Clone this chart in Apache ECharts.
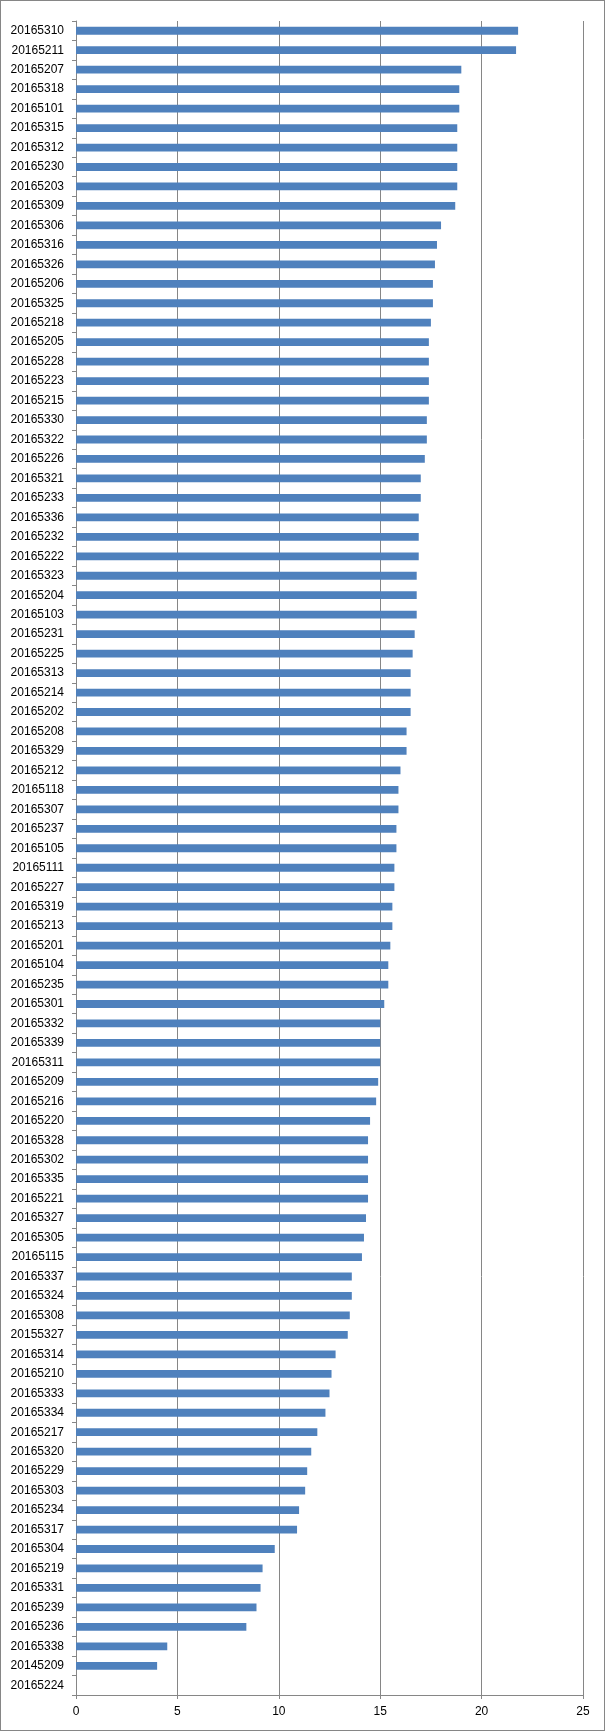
<!DOCTYPE html>
<html>
<head>
<meta charset="utf-8">
<script src="https://cdn.jsdelivr.net/npm/echarts@6/dist/echarts.min.js"></script>
<style>
  html, body { margin: 0; padding: 0; background: #fff; }
  #chart { width: 605px; height: 1731px; box-sizing: border-box; border: 1px solid #868686; }
</style>
</head>
<body>
<div id="chart"></div>
<script>
// categories, top to bottom
var ids = [
  '20165310','20165211','20165207','20165318','20165101','20165315','20165312','20165230','20165203','20165309',
  '20165306','20165316','20165326','20165206','20165325','20165218','20165205','20165228','20165223','20165215',
  '20165330','20165322','20165226','20165321','20165233','20165336','20165232','20165222','20165323','20165204',
  '20165103','20165231','20165225','20165313','20165214','20165202','20165208','20165329','20165212','20165118',
  '20165307','20165237','20165105','20165111','20165227','20165319','20165213','20165201','20165104','20165235',
  '20165301','20165332','20165339','20165311','20165209','20165216','20165220','20165328','20165302','20165335',
  '20165221','20165327','20165305','20165115','20165337','20165324','20165308','20155327','20165314','20165210',
  '20165333','20165334','20165217','20165320','20165229','20165303','20165234','20165317','20165304','20165219',
  '20165331','20165239','20165236','20165338','20145209','20165224'
];
// values
var scores = [
  21.8, 21.7, 19.0, 18.9, 18.9, 18.8, 18.8, 18.8, 18.8, 18.7,
  18.0, 17.8, 17.7, 17.6, 17.6, 17.5, 17.4, 17.4, 17.4, 17.4,
  17.3, 17.3, 17.2, 17.0, 17.0, 16.9, 16.9, 16.9, 16.8, 16.8,
  16.8, 16.7, 16.6, 16.5, 16.5, 16.5, 16.3, 16.3, 16.0, 15.9,
  15.9, 15.8, 15.8, 15.7, 15.7, 15.6, 15.6, 15.5, 15.4, 15.4,
  15.2, 15.0, 15.0, 15.0, 14.9, 14.8, 14.5, 14.4, 14.4, 14.4,
  14.4, 14.3, 14.2, 14.1, 13.6, 13.6, 13.5, 13.4, 12.8, 12.6,
  12.5, 12.3, 11.9, 11.6, 11.4, 11.3, 11.0, 10.9, 9.8, 9.2,
  9.1, 8.9, 8.4, 4.5, 4.0, 0
];
var xTicks = [0, 25, 5]; // min, max, step

var grey = '#868686';
var txt = { color: '#000', fontFamily: 'Liberation Sans, Arial, sans-serif', fontSize: 12 };

var myChart = echarts.init(document.getElementById('chart'));
myChart.setOption({
  animation: false,
  grid: { left: 75, right: 21, top: 20, bottom: 35, containLabel: false },
  xAxis: {
    type: 'value',
    min: xTicks[0], max: xTicks[1], interval: xTicks[2],
    axisLine: { show: true, lineStyle: { color: grey } },
    axisTick: { show: true, length: 4, lineStyle: { color: grey } },
    axisLabel: Object.assign({ margin: 11 }, txt),
    splitLine: { show: true, lineStyle: { color: grey } }
  },
  yAxis: {
    type: 'category',
    inverse: true,
    data: ids,
    axisLine: { show: true, lineStyle: { color: grey } },
    axisTick: { show: true, length: 4, lineStyle: { color: grey } },
    axisLabel: Object.assign({ interval: 0, margin: 12 }, txt)
  },
  series: [{
    type: 'bar',
    data: scores,
    barWidth: '40%',
    itemStyle: { color: '#4F81BD' }
  }]
});
</script>
</body>
</html>
